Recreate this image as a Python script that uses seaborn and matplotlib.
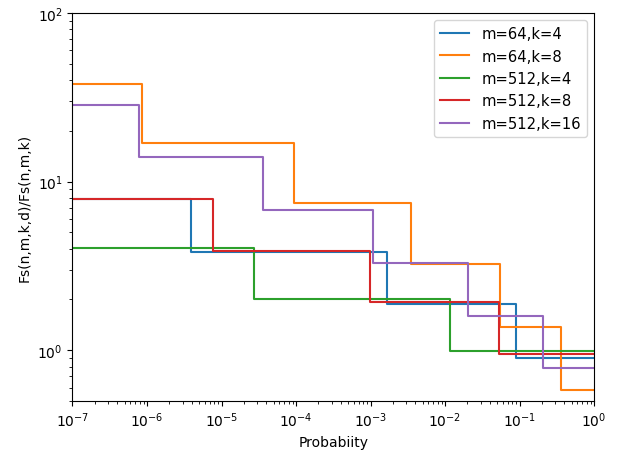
import numpy as np
import pandas as pd
import matplotlib
matplotlib.use("Agg")
import matplotlib.pyplot as plt
import seaborn as sns

# step breakpoints (x) and levels (y)
labels = ["m=64,k=4", "m=64,k=8", "m=512,k=4", "m=512,k=8", "m=512,k=16"]

x_64_4 = [1e-7, 3.9e-6, 1.67e-3, 0.09, 1.0]
y_64_4 = [7.9, 3.85, 1.88, 0.90, 0.90]

x_64_8 = [1e-7, 8.7e-7, 9.5e-5, 3.5e-3, 0.055, 0.36, 1.0]
y_64_8 = [38.0, 17.0, 7.5, 3.25, 1.38, 0.58, 0.58]

x_512_4 = [1e-7, 2.7e-5, 0.0118, 1.0]
y_512_4 = [4.02, 2.0, 0.99, 0.99]

x_512_8 = [1e-7, 7.8e-6, 9.9e-4, 0.053, 1.0]
y_512_8 = [7.9, 3.9, 1.92, 0.95, 0.95]

x_512_16 = [1e-7, 7.7e-7, 3.6e-5, 1.09e-3, 0.0204, 0.207, 1.0]
y_512_16 = [28.5, 14.0, 6.8, 3.3, 1.6, 0.78, 0.78]

xs = [x_64_4, x_64_8, x_512_4, x_512_8, x_512_16]
ys = [y_64_4, y_64_8, y_512_4, y_512_8, y_512_16]

frames = []
for lab, x, y in zip(labels, xs, ys):
    frames.append(pd.DataFrame({"x": x, "y": y, "series": lab}))
df = pd.concat(frames, ignore_index=True)

fig = plt.figure(figsize=(6.18, 4.52), dpi=100)
ax = fig.add_axes([0.1173, 0.1106, 0.8439, 0.8584])

sns.lineplot(data=df, x="x", y="y", hue="series", hue_order=labels,
             palette="tab10", drawstyle="steps-post", linewidth=1.5,
             estimator=None, sort=False, ax=ax)

ax.set_xscale("log")
ax.set_yscale("log")
ax.set_xlim(1e-7, 1)
ax.set_ylim(0.5, 100)
ax.set_xlabel("Probabiity")
ax.set_ylabel("Fs(n,m,k,d)/Fs(n,m,k)")
ax.legend(loc="upper right", fontsize=10.6)

fig.savefig("out.png", dpi=100)
